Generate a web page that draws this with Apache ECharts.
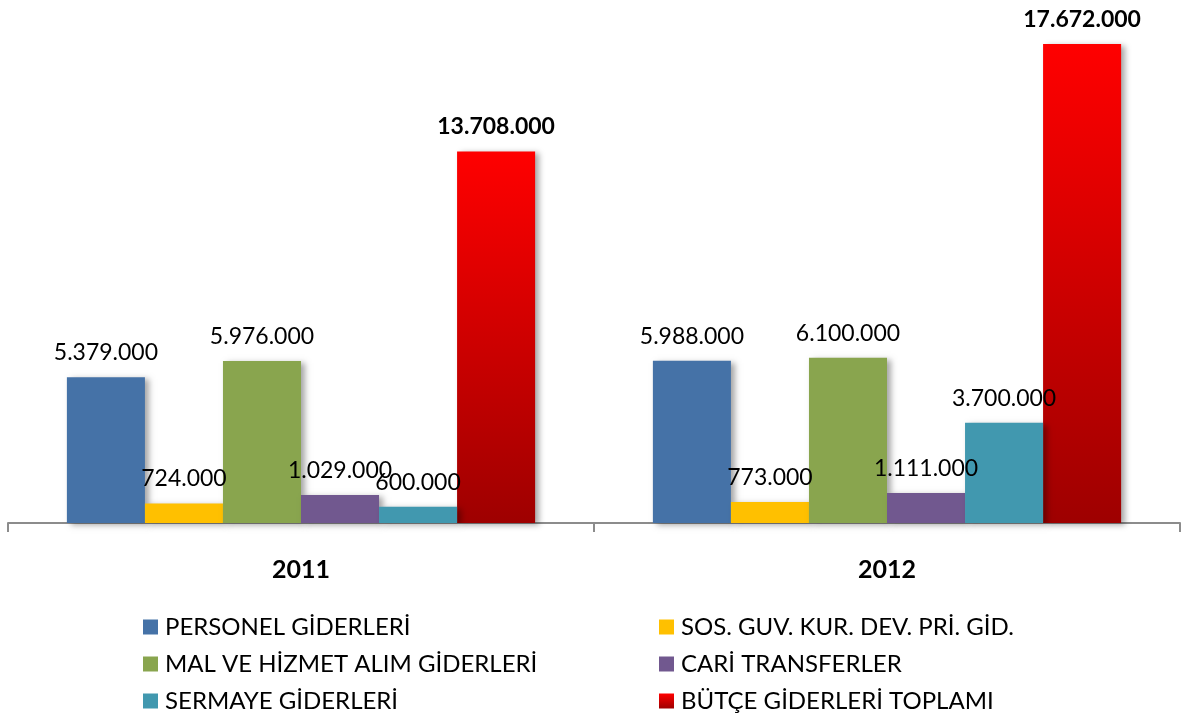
<!DOCTYPE html>
<html>
<head>
<meta charset="utf-8">
<script src="https://cdn.jsdelivr.net/npm/echarts@6/dist/echarts.min.js"></script>
<style>
html,body{margin:0;padding:0;background:#fff;}
#chart{width:1181px;height:718px;}
</style>
</head>
<body>
<div id="chart"></div>
<script>
var years=['2011','2012'];
var seriesNames=['PERSONEL GİDERLERİ','SOS. GUV. KUR. DEV. PRİ. GİD.','MAL VE HİZMET ALIM GİDERLERİ','CARİ TRANSFERLER','SERMAYE GİDERLERİ','BÜTÇE GİDERLERİ TOPLAMI'];
var personel=[5379000,5988000];
var sosGuv=[724000,773000];
var malHizmet=[5976000,6100000];
var cari=[1029000,1111000];
var sermaye=[600000,3700000];
var toplam=[13708000,17672000];

var values=[personel,sosGuv,malHizmet,cari,sermaye,toplam];
var colors=['#4572A7','#FFC000','#89A54E','#71588F','#4198AF',
	new echarts.graphic.LinearGradient(0,0,0,1,[{offset:0,color:'#FF0000'},{offset:1,color:'#9E0000'}])];

var fmt=function(p){
	return String(p.value).replace(/\B(?=(\d{3})+(?!\d))/g,'.');
};

var chart=echarts.init(document.getElementById('chart'));
var series=[];
for(var i=0;i<seriesNames.length;i++){
	var last=(i==seriesNames.length-1);
	series.push({
		name:seriesNames[i],
		type:'bar',
		data:values[i],
		barGap:'0%',
		barCategoryGap:'20.1%',
		itemStyle:{
			color:colors[i],
			shadowColor:'rgba(0,0,0,0.35)',
			shadowBlur:6,
			shadowOffsetX:4,
			shadowOffsetY:2
		},
		label:{
			show:true,
			position:'top',
			distance:13,
			formatter:fmt,
			color:'#000',
			fontFamily:'Lato',
			fontSize:23,
			fontWeight:last?'bold':'normal'
		},
		z:last?2:3
	});
}

var legendText={color:'#000',fontFamily:'Lato',fontSize:24,lineHeight:24,padding:[0,0,0,2]};
var option={
	animation:false,
	grid:{left:8,right:1,top:44,bottom:195},
	legend:[{
		orient:'vertical',left:143,top:615,height:120,padding:0,itemWidth:15,itemHeight:15,itemGap:13,
		icon:'rect',textStyle:legendText,
		data:[seriesNames[0],seriesNames[2],seriesNames[4]]
	},{
		orient:'vertical',left:659,top:615,height:120,padding:0,itemWidth:15,itemHeight:15,itemGap:13,
		icon:'rect',textStyle:legendText,
		data:[seriesNames[1],seriesNames[3],seriesNames[5]]
	}],
	xAxis:{
		type:'category',
		data:years,
		axisLine:{lineStyle:{color:'#8C8C8C',width:2}},
		axisTick:{show:true,length:9,lineStyle:{color:'#8C8C8C',width:2}},
		axisLabel:{color:'#000',fontFamily:'Lato',fontSize:25,fontWeight:'bold',margin:34}
	},
	yAxis:{
		type:'value',
		min:0,
		max:17672000,
		show:false,
		splitLine:{show:false}
	},
	series:series
};
chart.setOption(option);
</script>
</body>
</html>
